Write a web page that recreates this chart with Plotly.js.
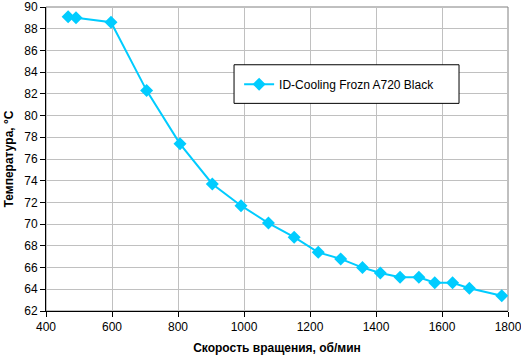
<!DOCTYPE html>
<html><head><meta charset="utf-8">
<script src="https://cdn.plot.ly/plotly-3.0.1.min.js"></script>
<style>body{margin:0;padding:0;background:#fff}#c{width:521px;height:355px}</style>
</head><body><div id="c"></div>
<script>
var seriesName = "ID-Cooling Frozn A720 Black";
var rpm = [467, 491, 597, 705, 806, 904, 991, 1074, 1152, 1225, 1293, 1359, 1413, 1473, 1530, 1578, 1632, 1683, 1781];
var temp = [89.1, 89.0, 88.6, 82.3, 77.4, 73.7, 71.7, 70.1, 68.8, 67.4, 66.8, 66.0, 65.5, 65.1, 65.1, 64.6, 64.6, 64.1, 63.4];
var xTitle = "Скорость вращения, об/мин";
var yTitle = "Температура, °С";

var trace = {
  x: rpm, y: temp, name: seriesName, type: 'scatter', mode: 'lines+markers',
  line: {color: '#00CCFF', width: 2},
  marker: {symbol: 'diamond', size: 10, color: '#00CCFF'}
};
var layout = {
  width: 521, height: 355,
  margin: {l: 46, r: 13, t: 7, b: 44},
  paper_bgcolor: '#fff', plot_bgcolor: '#fff',
  font: {family: 'Liberation Sans, Arial, sans-serif', size: 12, color: '#000'},
  showlegend: true,
  xaxis: {
    range: [400, 1800], dtick: 200, tick0: 400,
    showgrid: true, gridcolor: '#C0C0C0', gridwidth: 1,
    showline: true, linecolor: '#000', linewidth: 1,
    ticks: 'outside', ticklen: 5, tickcolor: '#000',
    zeroline: false, mirror: false, ticklabeloverflow: 'allow',
    title: {text: '<b>' + xTitle + '</b>', font: {size: 12}, standoff: 10},
    tickfont: {size: 12}
  },
  yaxis: {
    range: [62, 90], dtick: 2, tick0: 62,
    showgrid: true, gridcolor: '#C0C0C0', gridwidth: 1,
    showline: true, linecolor: '#000', linewidth: 1,
    ticks: 'outside', ticklen: 5, tickcolor: '#000',
    zeroline: false, ticklabeloverflow: 'allow',
    title: {text: '<b>' + yTitle + '</b>', font: {size: 12}, standoff: 8},
    tickfont: {size: 12}
  },
  shapes: [
    {type: 'rect', xref: 'paper', yref: 'paper', x0: 0, x1: 1, y0: 0, y1: 1,
     line: {color: '#808080', width: 1}, layer: 'below'},
    {type: 'rect', xref: 'paper', yref: 'paper', x0: 0.407, x1: 0.894, y0: 0.683, y1: 0.81,
     line: {color: '#000', width: 1}, fillcolor: '#fff', layer: 'above'}
  ],
  legend: {
    x: 0.418, y: 0.746, xanchor: 'left', yanchor: 'middle',
    bgcolor: 'rgba(0,0,0,0)', borderwidth: 0,
    font: {size: 12}
  }
};
Plotly.newPlot('c', [trace], layout, {displayModeBar: false, staticPlot: true});
</script>
</body></html>
